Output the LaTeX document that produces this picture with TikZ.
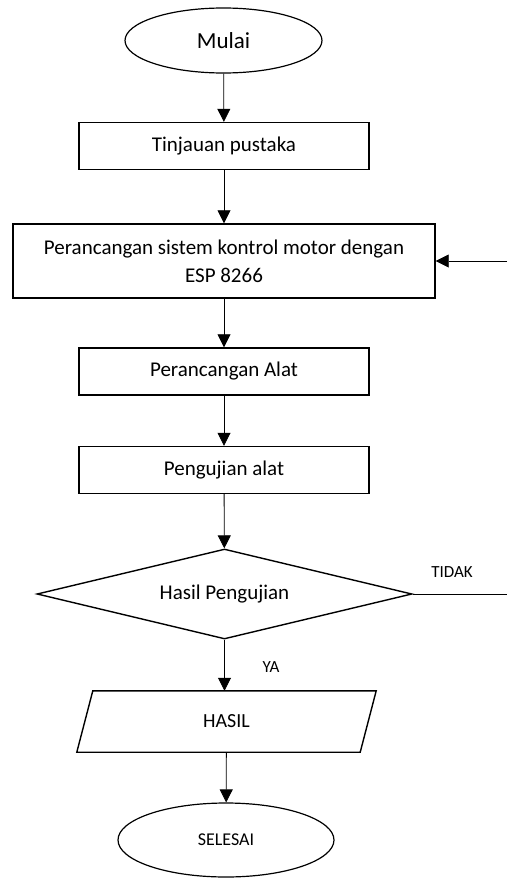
\documentclass[tikz,border=0pt]{standalone}
\usepackage{fontspec}
\setmainfont{Carlito}
\usetikzlibrary{arrows.meta,shapes.geometric}
\begin{document}
\begin{tikzpicture}[x=1pt, y=-1pt,
		proses/.style={draw, line width=1.4pt, rectangle, minimum width=290pt, minimum height=47pt, inner sep=0pt, font=\fontsize{21}{28}\selectfont},
		terminal/.style={draw, line width=1.2pt, ellipse, inner sep=0pt},
		keputusan/.style={draw, line width=1.4pt, diamond, shape aspect=4.17, minimum width=375pt, minimum height=90pt, inner sep=0pt, font=\fontsize{21}{25}\selectfont},
		keluaran/.style={rectangle, minimum width=283pt, minimum height=61pt, inner sep=0pt, font=\fontsize{20}{24}\selectfont},
		panah/.style={-{Triangle[length=13pt, width=13pt]}, line width=0.8pt},
		garis/.style={line width=0.8pt},
		ket/.style={font=\fontsize{17}{20}\selectfont}]
	\useasboundingbox (0,0) rectangle (507,878);

	% terminal awal
	\node[terminal, minimum width=197pt, minimum height=65pt, font=\fontsize{23}{27}\selectfont] (mulai) at (223.5,40.5) {Mulai};

	% proses
	\node[proses] (tinjauan) at (224,146) {Tinjauan pustaka};
	\node[proses, minimum width=422pt, minimum height=74pt, align=center] (rancang) at (224,261)
		{Perancangan sistem kontrol motor dengan\\ESP 8266};
	\node[proses] (alat) at (224,371.5) {Perancangan Alat};
	\node[proses] (uji) at (224,470) {Pengujian alat};

	% keputusan
	\node[keputusan] (hasiluji) at (224.5,594) {Hasil Pengujian};

	% keluaran (jajaran genjang)
	\node[keluaran] (hasil) at (226.5,721.5) {HASIL};
	\draw[line width=1.4pt, line join=miter]
		([xshift=8pt]hasil.north west) -- ([xshift=8pt]hasil.north east)
		-- ([xshift=-8pt]hasil.south east) -- ([xshift=-8pt]hasil.south west) -- cycle;

	% terminal akhir
	\node[terminal, minimum width=216pt, minimum height=74pt, font=\fontsize{18}{22}\selectfont] (selesai) at (226,840) {SELESAI};

	% alur
	\draw[panah] (mulai) -- (tinjauan);
	\draw[panah] (tinjauan) -- (rancang);
	\draw[panah] (rancang) -- (alat);
	\draw[panah] (alat) -- (uji);
	\draw[panah] (uji) -- (hasiluji);
	\draw[panah] (hasiluji.south) -- (hasil.north -| hasiluji.south);
	\draw[panah] (hasil) -- (selesai);

	% umpan balik
	\coordinate (tidakujung) at (507,594);
	\coordinate (balikujung) at (507,261);
	\draw[garis] (hasiluji.east) -- (tidakujung);
	\draw[panah] (balikujung) -- (rancang.east);

	% label
	\node[ket] (tidak) at (452,572) {TIDAK};
	\node[ket] (ya) at (271,667) {YA};
\end{tikzpicture}
\end{document}
